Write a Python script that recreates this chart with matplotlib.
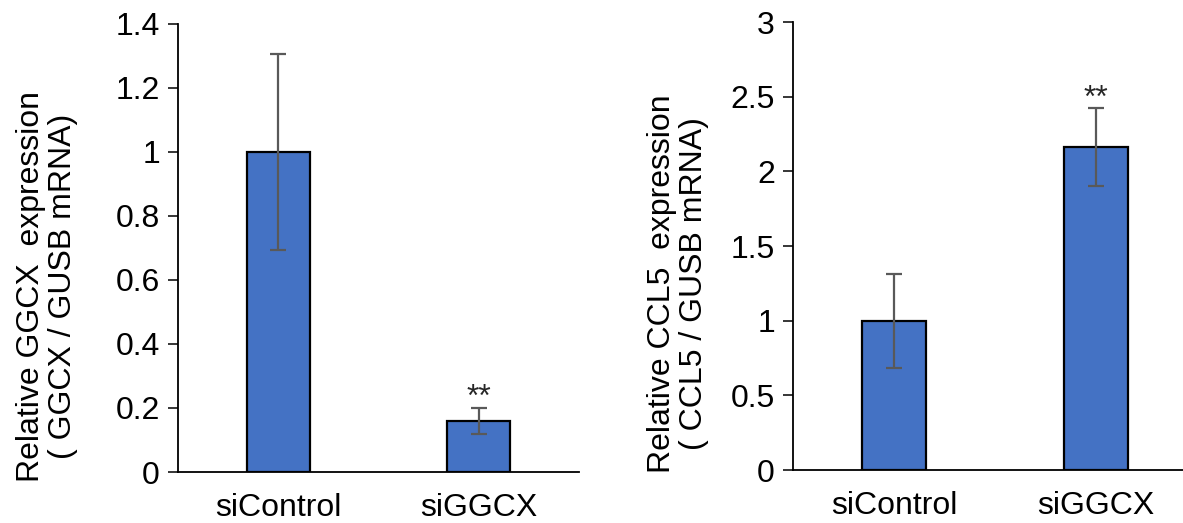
import matplotlib
matplotlib.use("Agg")
import matplotlib.pyplot as plt

plt.rcParams["font.family"] = ["Liberation Sans", "DejaVu Sans"]

W, H = 1183, 523

groups = ["siControl", "siGGCX"]

ggcx_mean = [1.0, 0.16]
ggcx_err = [0.306, 0.040]
ggcx_sig = ["", "**"]
ggcx_ticks = [0, 0.2, 0.4, 0.6, 0.8, 1, 1.2, 1.4]
ggcx_ticklabels = ["0", "0.2", "0.4", "0.6", "0.8", "1", "1.2", "1.4"]

ccl5_mean = [1.0, 2.165]
ccl5_err = [0.315, 0.262]
ccl5_sig = ["", "**"]
ccl5_ticks = [0, 0.5, 1, 1.5, 2, 2.5, 3]
ccl5_ticklabels = ["0", "0.5", "1", "1.5", "2", "2.5", "3"]

BAR = "#4472C4"
ERR = "#595959"
FS = 23


def px_box(x0, y0, x1, y1):
    # pixel box (top-left origin) -> figure fraction rect
    return [x0 / W, 1 - y1 / H, (x1 - x0) / W, (y1 - y0) / H]


def panel(ax, means, errs, sigs, ticks, ticklabels, ymax, xmax, sig_off):
    xs = range(len(groups))
    ax.bar(xs, means, width=0.313, color=BAR, edgecolor="black", linewidth=1.6, zorder=2)
    ax.errorbar(xs, means, yerr=errs, fmt="none", ecolor=ERR, elinewidth=1.6,
                capsize=5.5, capthick=1.6, zorder=3)
    for x, m, e, s in zip(xs, means, errs, sigs):
        if s:
            ax.text(x, m + e + sig_off, s, ha="center", va="center",
                    fontsize=FS, color="#262626")
    ax.set_xlim(-0.5, xmax)
    ax.set_ylim(0, ymax)
    ax.set_yticks(ticks)
    ax.set_yticklabels(ticklabels)
    ax.set_xticks(list(xs))
    ax.set_xticklabels(groups)
    for s in ["top", "right"]:
        ax.spines[s].set_visible(False)
    for s in ["left", "bottom"]:
        ax.spines[s].set_linewidth(1.3)
        ax.spines[s].set_color("black")
    ax.tick_params(axis="y", direction="out", length=7, width=1.1, pad=6,
                   labelsize=FS, colors="black")
    ax.tick_params(axis="x", length=0, pad=15, labelsize=FS, colors="black")


fig = plt.figure(figsize=(W / 100, H / 100), dpi=100)

ax1 = fig.add_axes(px_box(178, 23.5, 579, 472))
panel(ax1, ggcx_mean, ggcx_err, ggcx_sig, ggcx_ticks, ggcx_ticklabels, 1.4, 1.5, 0.03)

ax2 = fig.add_axes(px_box(793, 22, 1183, 470))
panel(ax2, ccl5_mean, ccl5_err, ccl5_sig, ccl5_ticks, ccl5_ticklabels, 3.0, 1.43, 0.06)

fig.text(47 / W, 1 - 286 / H, "Relative GGCX  expression\n( GGCX / GUSB mRNA)",
         rotation=90, ha="center", va="center", multialignment="center",
         fontsize=FS, linespacing=1.1)
fig.text(678 / W, 1 - 284 / H, "Relative CCL5  expression\n( CCL5 / GUSB mRNA)",
         rotation=90, ha="center", va="center", multialignment="center",
         fontsize=FS, linespacing=1.1)

fig.savefig("out.png", dpi=100, facecolor="white")
